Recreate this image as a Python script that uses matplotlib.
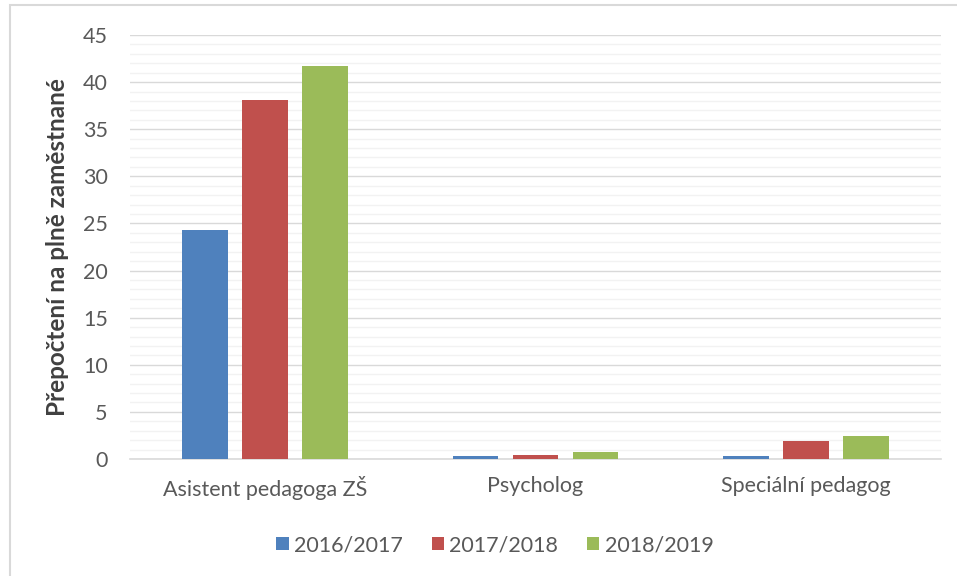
import matplotlib.pyplot as plt
import numpy as np
from matplotlib.patches import Rectangle

plt.rcParams['font.family'] = ['Lato', 'DejaVu Sans']

categories = ['Asistent pedagoga ZŠ', 'Psycholog', 'Speciální pedagog']
years = ['2016/2017', '2017/2018', '2018/2019']
v_2016 = [24.3, 0.3, 0.35]
v_2017 = [38.1, 0.45, 1.95]
v_2018 = [41.7, 0.7, 2.45]
colors = ['#4f81bd', '#c0504d', '#9bbb59']

fig = plt.figure(figsize=(9.57, 5.76), dpi=100)
ax = fig.add_axes([130/957, 1 - 459/576, (941 - 130)/957, (459 - 35)/576])

# frame around the chart (only top and left visible)
fig.patches.append(Rectangle((10/957, -0.05), 1.2, 1 - 5/576 + 0.05, transform=fig.transFigure,
                             fill=False, edgecolor='#d9d9d9', linewidth=1.5))

x = np.arange(len(categories))
w = 0.17
step = 0.222
for i, (vals, lab) in enumerate(zip([v_2016, v_2017, v_2018], years)):
    ax.bar(x + (i - 1) * step, vals, width=w, color=colors[i], label=lab, zorder=3)

ax.set_xlim(-0.5, 2.5)
ax.set_ylim(0, 45)
ax.set_yticks(range(0, 46, 5))
ax.set_yticks(range(0, 46, 1), minor=True)
ax.set_xticks(x)
ax.set_xticklabels(categories)
ax.grid(axis='y', which='major', color='#d9d9d9', linewidth=1, zorder=0)
ax.grid(axis='y', which='minor', color='#f2f2f2', linewidth=1, zorder=0)
ax.tick_params(axis='both', which='both', length=0, labelsize=15.5, colors='#595959')
ax.tick_params(axis='y', pad=16)
ax.tick_params(axis='x', pad=12)
for s in ['top', 'right', 'left']:
    ax.spines[s].set_visible(False)
ax.spines['bottom'].set_color('#d9d9d9')
ax.spines['bottom'].set_linewidth(1.2)

ax.set_ylabel('Přepočtení na plně zaměstnané', fontsize=17.5, fontweight='bold', color='#404040', labelpad=10)

fig.legend(loc='center', bbox_to_anchor=(495/957, 1 - 545/576), ncol=3, frameon=False,
           fontsize=15.5, handlelength=0.56, handleheight=0.56, handletextpad=0.25, columnspacing=1.35,
           labelcolor='#595959')

fig.savefig('out.png', dpi=100)
